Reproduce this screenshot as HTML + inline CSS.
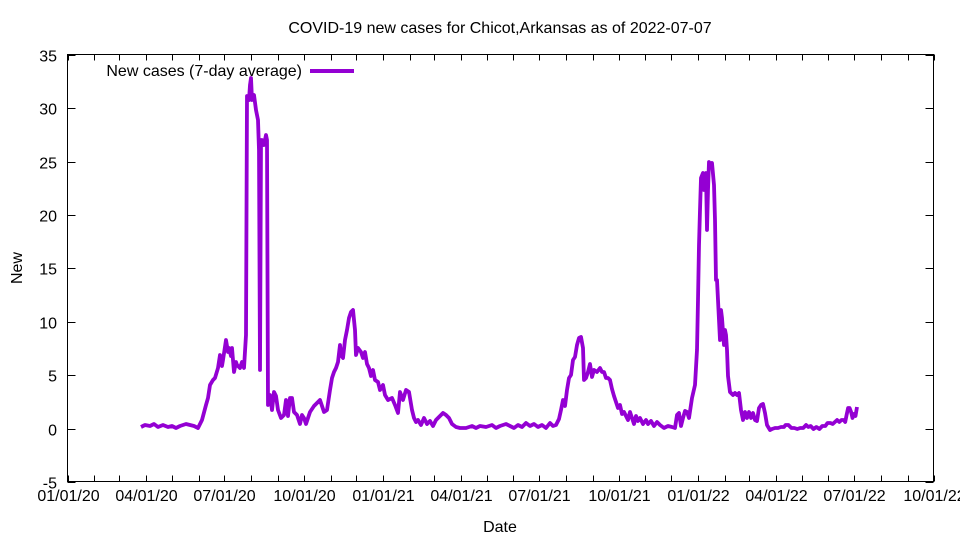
<!DOCTYPE html>
<html><head><meta charset="utf-8"><style>body{margin:0;background:#fff}svg{display:block}text{font-family:"Liberation Sans",sans-serif;font-size:16px;fill:#000}</style></head>
<body>
<svg id="s" width="960" height="540" xmlns="http://www.w3.org/2000/svg">
<rect x="67.5" y="54.5" width="866" height="427" fill="none" stroke="#000" stroke-width="1"/>
<text x="500" y="33" text-anchor="middle">COVID-19 new cases for Chicot,Arkansas as of 2022-07-07</text>
<text x="500" y="532" text-anchor="middle">Date</text>
<text x="22" y="268" text-anchor="middle" transform="rotate(-90 22 268)">New</text>
<text x="302" y="76" text-anchor="end">New cases (7-day average)</text>
<line x1="310" y1="71" x2="354" y2="71" stroke="#9400d3" stroke-width="4"/>
<g id="ax"></g>
<polyline fill="none" stroke="#9400d3" stroke-width="3.8" stroke-linejoin="round" points="141,427 145,425 150,426 154,424 158,427 163,425 168,427 172,426 176,428 180,426 186,424 190,425 194,426 198,428 202,420 206,405 208,398 210,385 213,380 215,378 218,368 220,355 222,366 223,360 226,340 228,352 229,348 231,356 232,348 234,372 236,362 237,365 240,368 242,362 244,368 246,335 247,96 249,100 250,85 251,78 252,100 254,95 256,110 258,120 259,150 260,370 261,140 262,140 264,145 266,135 267,140 268,405 270,395 272,410 274,392 276,396 278,410 281,418 284,415 286,400 288,416 290,398 292,398 294,412 297,415 300,424 302,415 304,418 306,424 310,412 314,406 318,402 320,400 322,406 324,412 327,410 330,390 332,378 334,372 336,368 338,362 340,345 341,355 343,358 345,340 347,330 349,318 351,312 353,310 355,330 356,355 358,348 361,352 363,358 365,352 367,364 369,368 371,376 373,370 375,380 378,382 380,390 383,385 385,395 388,400 392,398 395,405 398,413 400,392 403,400 406,390 409,392 412,410 414,418 416,422 418,420 421,425 424,418 427,424 430,421 433,426 436,420 440,416 443,413 446,415 449,418 452,424 456,427 460,428 466,428 472,426 476,428 480,426 486,427 492,425 496,428 500,426 506,424 510,426 514,428 518,425 522,427 526,423 530,426 534,424 538,427 542,425 546,428 550,423 553,426 556,425 559,419 561,410 563,400 565,406 567,390 569,378 571,375 573,360 575,357 577,345 579,338 581,337 583,348 584,380 586,378 588,372 590,364 592,377 594,370 597,372 600,368 602,372 604,372 606,378 608,378 610,380 612,389 614,396 616,402 618,408 620,405 622,414 624,412 626,416 628,420 630,412 632,418 634,424 636,416 638,421 640,418 643,424 646,420 648,424 651,421 654,426 657,422 660,425 664,428 668,426 672,427 675,428 677,415 679,413 681,426 683,418 685,411 687,412 689,418 692,398 695,385 697,350 698,300 699,245 700,210 701,178 703,173 704,190 706,173 707,230 708,190 709,162 711,165 712,163 714,185 715,220 716,280 717,280 719,320 720,340 721,310 722,318 724,345 725,330 726,335 727,350 728,376 730,392 733,395 735,393 737,395 739,393 741,410 743,420 745,412 747,418 749,412 751,418 753,413 755,420 757,421 759,408 761,405 763,404 765,413 767,425 770,430 772,429 775,428 778,428 781,427 784,427 785.5,425 788.4,425 791.4,428 794.3,428 797.3,429 800.2,428 803.2,428 806.1,425 808.3,427 810.6,426 813.5,429 816.4,427 819.4,429 822.3,426 825.3,426 827.5,423 830.4,423 832.7,424 834.9,422 837.1,420 839.3,422 841.5,420 843.7,420 845.2,422 846.6,415 848.1,408 849.6,408 851.1,412 852.5,418 854,414 855.5,416 857,407"/>
</svg>
<script>
var g=document.getElementById('ax'),s='';
var L=67.5,R=933.5,T=54.5,B=481.5;
for(var v=-5;v<=35;v+=5){var y=428.6-10.675*v;y=Math.round(y)+0.5;
s+='<line x1="'+L+'" y1="'+y+'" x2="'+(L+8)+'" y2="'+y+'" stroke="#000"/><line x1="'+R+'" y1="'+y+'" x2="'+(R-8)+'" y2="'+y+'" stroke="#000"/>';
s+='<text x="57" y="'+(y+6)+'" text-anchor="end">'+v+'</text>';}
var base=Date.UTC(2020,0,1),px=866/1004;
var labs=['01/01/20','04/01/20','07/01/20','10/01/20','01/01/21','04/01/21','07/01/21','10/01/21','01/01/22','04/01/22','07/01/22','10/01/22'];
var k=0;
for(var m=0;m<=33;m++){var d=Date.UTC(2020,m,1);var x=Math.round(L+(d-base)/864e5*px)+0.5;
s+='<line x1="'+x+'" y1="'+B+'" x2="'+x+'" y2="'+(B-6)+'" stroke="#000"/><line x1="'+x+'" y1="'+T+'" x2="'+x+'" y2="'+(T+6)+'" stroke="#000"/>';
if(m%3==0){s+='<text x="'+x+'" y="501" text-anchor="middle">'+labs[k++]+'</text>';}}
g.innerHTML=s;
</script>
</body></html>
